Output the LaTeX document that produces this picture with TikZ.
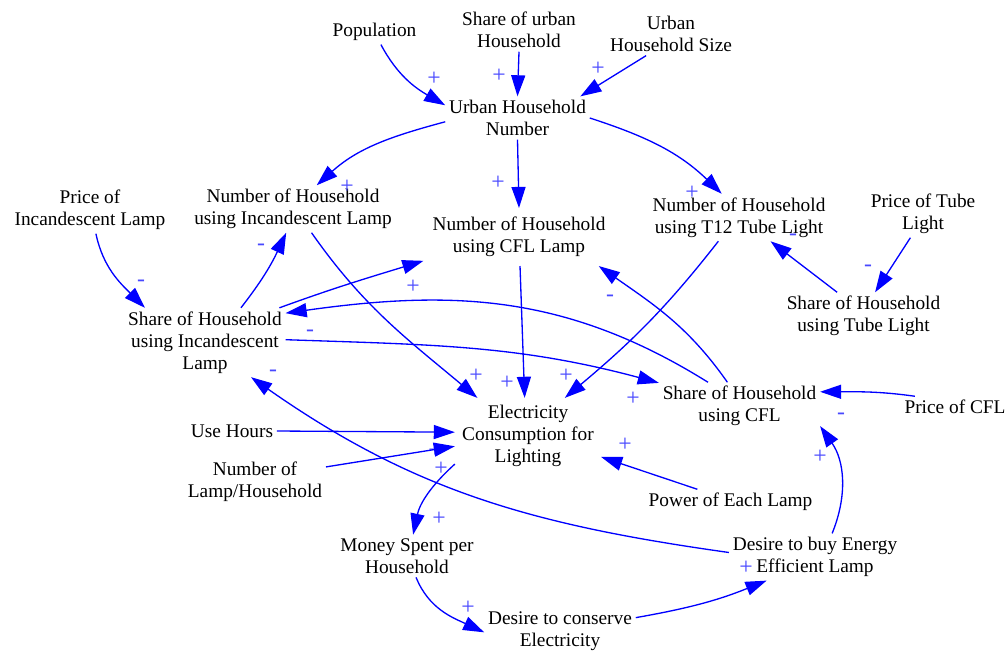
\documentclass[tikz,border=0pt]{standalone}
\usepackage{fontspec}
\setmainfont{Liberation Serif}
\usetikzlibrary{arrows.meta}
\definecolor{cblue}{HTML}{0000FF}
\definecolor{cpol}{HTML}{4848FF}
\tikzset{
  var/.style={align=center, inner sep=2pt, font=\fontsize{11}{12.5}\selectfont},
  link/.style={-{Triangle[length=12pt, width=8pt]}, draw=cblue, line width=0.75pt},
  pol/.style={text=cpol, inner sep=0pt, font=\fontsize{13.5}{14}\selectfont},
}
\begin{document}
\begin{tikzpicture}[x=0.02cm, y=0.02cm]
  \useasboundingbox (0,0) rectangle (1005,-653);
  % variables
  \node[var] (pop) at (374.5,-32) {Population};
  \node[var] (sub) at (519,-30) {Share of urban\\Household};
  \node[var] (uhs) at (671,-34) {Urban\\Household Size};
  \node[var] (uhn) at (517.5,-118) {Urban Household\\Number};
  \node[var] (nhi) at (293,-209) {Number of Household\\using Incandescent Lamp};
  \node[var] (pil) at (90,-210) {Price of\\Incandescent Lamp};
  \node[var, inner sep=5pt] (nhc) at (519,-237) {Number of Household\\using CFL Lamp};
  \node[var] (nht) at (739,-217.5) {Number of Household\\using T12 Tube Light};
  \node[var] (ptl) at (923,-214) {Price of Tube\\Light};
  \node[var] (sht) at (863.5,-316) {Share of Household\\using Tube Light};
  \node[var] (shi) at (205,-342.5) {Share of Household\\using Incandescent\\Lamp};
  \node[var] (shc) at (739.5,-406) {Share of Household\\using CFL};
  \node[var] (pcfl) at (955,-407) {Price of CFL};
  \node[var, inner sep=4pt] (ecl) at (528,-436) {Electricity\\Consumption for\\Lighting};
  \node[var] (uh) at (232,-431) {Use Hours};
  \node[var] (nl) at (255,-482) {Number of\\Lamp/Household};
  \node[var] (pel) at (730.5,-502) {Power of Each Lamp};
  \node[var] (msh) at (407,-556) {Money Spent per\\Household};
  \node[var] (dbe) at (815,-557) {Desire to buy Energy\\Efficient Lamp};
  \node[var] (dce) at (560,-631) {Desire to conserve\\Electricity};
  % polarity signs
  \foreach \px/\py/\s [count=\i] in {434/79/+, 499/76/+, 598/69/+, 347/187/+, 498/183/+,
      692/193/+, 141/283/-, 261/247/-, 413/287/+, 310/333/-, 633/399/+, 610/298/-,
      476/376/+, 507/383/+, 566/376/+, 793/237/-, 868/268/-, 841/416/-, 820/457/+,
      273/373/-, 435/451/+, 441/469/+, 439/519/+, 625/445/+, 468/608/+, 746/568/+} {
    \node[pol] (pol\i) at (\px,-\py) {\s};
  }
  % causal links
  \draw[link] (pop.-63) to[out=-62, in=150] (uhn.170);
  \draw[link] (sub.south) -- (uhn.north);
  \draw[link] (uhs.221) -- (uhn.19);
  \draw[link] (uhn.183) to[out=195, in=42] (nhi.45);
  \draw[link] (uhn.south) -- (nhc.north);
  \draw[link] (uhn.east) to[out=-18, in=136] (nht.126);
  \draw[link] (pil.-76) to[out=-78, in=135] (shi.150);
  \draw[link] (shi.44) to[out=52, in=-115] (nhi.-106);
  \draw[link] (shi.25) to[out=20, in=-163] (nhc.194);
  \draw[link] (shc.143) to[out=148, in=8] (shi.20);
  \draw[link] (shi.2) to[out=-2, in=165] (shc.164);
  \draw[link] (shc.117) to[out=125, in=-35] (nhc.-20);
  \draw[link] (nhi.-52) to[out=-55, in=140] (ecl.143);
  \draw[link] (nhc.-88) -- (ecl.95);
  \draw[link] (nht.229) to[out=232, in=40] (ecl.46);
  \draw[link] (sht.138) -- (nht.-37);
  \draw[link] (ptl.242) -- (sht.64);
  \draw[link] (pcfl.165) to[out=172, in=0] (shc.10);
  \draw[link] (dbe.54) to[out=68, in=-55] (shc.-14);
  \draw[link] (dbe.177) to[out=172, in=-35] (shi.-37);
  \draw[link] (uh.east) -- (ecl.177);
  \draw[link] (nl.12) -- (ecl.188);
  \draw[link] (pel.159) -- (ecl.-16);
  \draw[link] (ecl.201) to[out=222, in=78] (msh.74);
  \draw[link] (msh.-67) to[out=-68, in=155] (dce.181);
  \draw[link] (dce.10) to[out=10, in=-158] (dbe.206);
\end{tikzpicture}
\end{document}
